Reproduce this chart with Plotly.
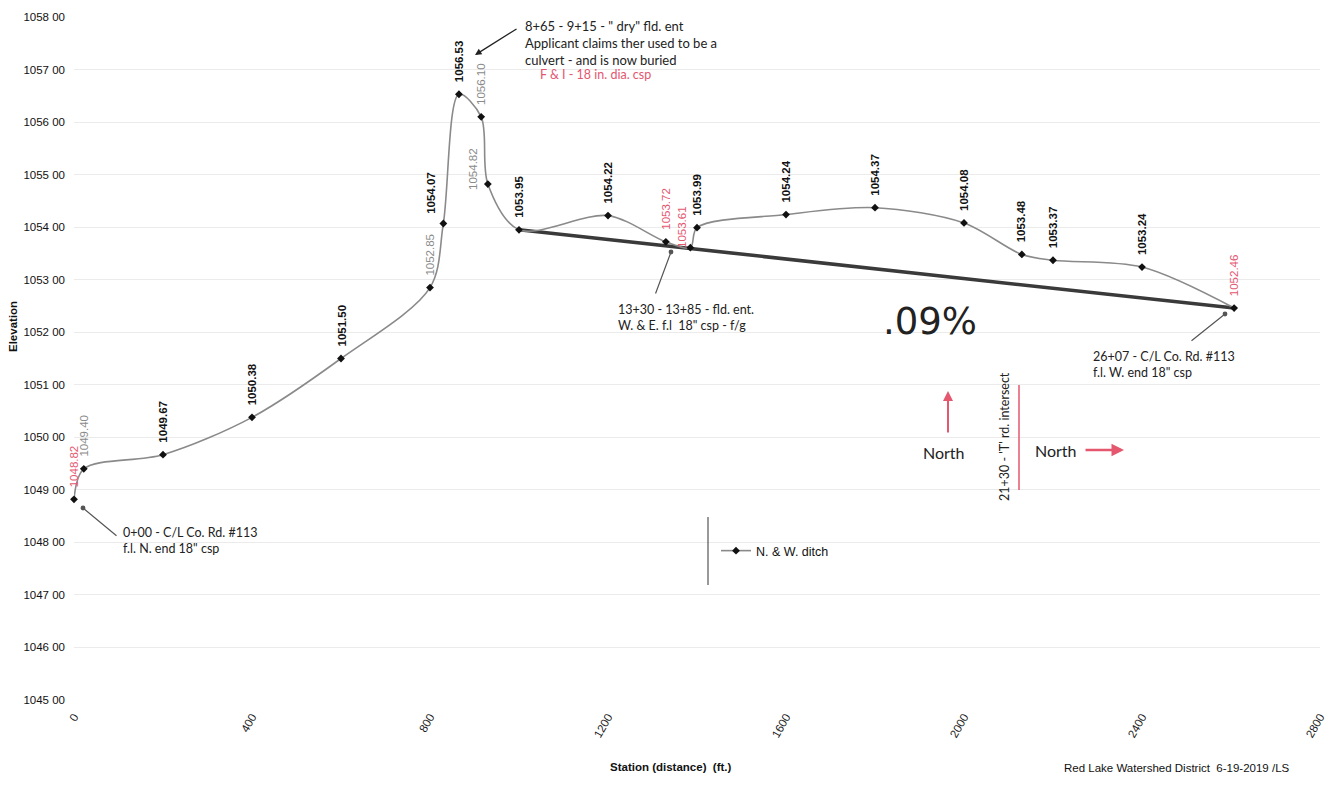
import plotly.graph_objects as go

# ---- data ----
stations = [0, 22, 200, 400, 600, 800, 830, 865, 915, 930, 1000, 1200, 1330, 1385,
            1400, 1600, 1800, 2000, 2130, 2200, 2400, 2607]
elevations = [1048.82, 1049.40, 1049.67, 1050.38, 1051.50, 1052.85, 1054.07, 1056.53,
              1056.10, 1054.82, 1053.95, 1054.22, 1053.72, 1053.61, 1053.99, 1054.24,
              1054.37, 1054.08, 1053.48, 1053.37, 1053.24, 1052.46]
grade_start, grade_end = 1000, 2607
series_name = "N. & W. ditch"
y_ticks = list(range(1045, 1059))
x_ticks = list(range(0, 2801, 400))

# ---- styling ----
red = "#e5566f"
red_labels = {0, 1330, 1385, 2607}
gray_labels = {22, 800, 915, 930}
label_shift = {830: (-12, -2), 930: (-15, -18), 1385: (-9, -12)}

fig = go.Figure()

# gradient line
i0, i1 = stations.index(grade_start), stations.index(grade_end)
fig.add_trace(go.Scatter(x=[stations[i0], stations[i1]], y=[elevations[i0], elevations[i1]],
                         mode="lines", line=dict(color="#3a3a3a", width=3.5),
                         showlegend=False, hoverinfo="skip"))

fig.add_trace(go.Scatter(x=stations, y=elevations, mode="lines+markers", name=series_name,
                         line=dict(color="#8a8a8a", width=1.6, shape="spline", smoothing=0.9),
                         marker=dict(symbol="diamond", size=6, color="#111"),
                         cliponaxis=False))

ann = []
for s, e in zip(stations, elevations):
    if s in red_labels:
        col, txt = red, f"{e:.2f}"
    elif s in gray_labels:
        col, txt = "#8a8a8a", f"{e:.2f}"
    else:
        col, txt = "#111", f"<b>{e:.2f}</b>"
    dx, dy = label_shift.get(s, (0, 0))
    ann.append(dict(x=s, y=e, text=txt, textangle=-90, showarrow=False,
                    xanchor="center", yanchor="bottom", yshift=10 + dy, xshift=dx,
                    font=dict(family="Liberation Sans", size=11.5, color=col)))

note_font = dict(family="Lato", size=12.5, color="#222")

def px2x(px):
    return (px - 74) / 0.4450

def px2y(py):
    return 1058 - (py - 17) / 52.54

# top note
ann.append(dict(x=px2x(523), y=1058, yshift=1, xanchor="left", yanchor="top", showarrow=False, align="left",
                text="8+65 - 9+15 - \" dry\" fld. ent<br>Applicant claims ther used to be a<br>culvert - and is now buried",
                font=dict(family="Lato", size=13, color="#222")))
ann.append(dict(x=px2x(475), y=px2y(55), ax=px2x(518), ay=px2y(28), axref="x", ayref="y",
                showarrow=True, arrowhead=2, arrowsize=1, arrowwidth=1.3, arrowcolor="#222", text=""))
ann.append(dict(x=px2x(538), y=px2y(74), xanchor="left", yanchor="middle", showarrow=False,
                text="F & I - 18 in. dia. csp", font=dict(family="Lato", size=12.5, color=red)))

# 13+30 note
ann.append(dict(x=px2x(616), y=px2y(318), xanchor="left", yanchor="middle", showarrow=False, align="left",
                text="13+30 - 13+85 - fld. ent.<br>W. & E. f.l  18\" csp - f/g", font=note_font))
ann.append(dict(x=px2x(671), y=px2y(252), ax=px2x(655), ay=px2y(295), axref="x", ayref="y",
                showarrow=True, arrowhead=6, arrowsize=1, arrowwidth=1.2, arrowcolor="#555", text=""))

# 0+00 note
ann.append(dict(x=px2x(121), y=px2y(541), xanchor="left", yanchor="middle", showarrow=False, align="left",
                text="0+00 - C/L Co. Rd. #113<br>f.l. N. end 18\" csp", font=note_font))
ann.append(dict(x=px2x(83), y=px2y(508), ax=px2x(118), ay=px2y(537), axref="x", ayref="y",
                showarrow=True, arrowhead=6, arrowsize=1, arrowwidth=1.2, arrowcolor="#555", text=""))

# 26+07 note
ann.append(dict(x=px2x(1091), y=px2y(365), xanchor="left", yanchor="middle", showarrow=False, align="left",
                text="26+07 - C/L Co. Rd. #113<br>f.l. W. end 18\" csp", font=note_font))
ann.append(dict(x=px2x(1225), y=px2y(314), ax=px2x(1190), ay=px2y(342), axref="x", ayref="y",
                showarrow=True, arrowhead=6, arrowsize=1, arrowwidth=1.2, arrowcolor="#555", text=""))

# grade handwritten
ann.append(dict(x=px2x(930), y=px2y(322), showarrow=False, text=".09%",
                font=dict(family="DejaVu Sans", size=37, color="#222")))

# North arrows
ann.append(dict(x=px2x(948), y=px2y(391), ax=px2x(948), ay=px2y(434), axref="x", ayref="y",
                showarrow=True, arrowhead=2, arrowsize=1, arrowwidth=2, arrowcolor=red, text=""))
ann.append(dict(x=px2x(944), y=px2y(453), showarrow=False, text="North",
                font=dict(family="Lato", size=16, color="#222")))
ann.append(dict(x=px2x(1056), y=px2y(451), showarrow=False, text="North",
                font=dict(family="Lato", size=16, color="#222")))
ann.append(dict(x=px2x(1124), y=px2y(450), ax=px2x(1084), ay=px2y(450), axref="x", ayref="y",
                showarrow=True, arrowhead=2, arrowsize=1, arrowwidth=2.5, arrowcolor=red, text=""))
ann.append(dict(x=px2x(1005), y=px2y(437), showarrow=False, text="21+30 - 'T' rd. intersect",
                textangle=-90, font=dict(family="Lato", size=12.5, color="#222")))

# axis titles / footer
ann.append(dict(xref="paper", yref="paper", x=(13 - 74) / 1246, y=(700 - 327) / 683, showarrow=False,
                xanchor="center", yanchor="middle",
                text="<b>Elevation</b>", textangle=-90,
                font=dict(family="Liberation Sans", size=11.5, color="#111")))
ann.append(dict(xref="paper", yref="paper", x=(671 - 74) / 1246, y=(700 - 767) / 683, showarrow=False,
                xanchor="center", yanchor="middle",
                text="<b>Station (distance)  (ft.)</b>",
                font=dict(family="Liberation Sans", size=11.5, color="#111")))
ann.append(dict(xref="paper", yref="paper", x=(1177 - 74) / 1246, y=(700 - 768) / 683, showarrow=False,
                xanchor="center", yanchor="middle",
                text="Red Lake Watershed District  6-19-2019 /LS",
                font=dict(family="Liberation Sans", size=11.5, color="#111")))

shapes = [
    dict(type="line", xref="x", yref="y", x0=px2x(1019), x1=px2x(1019), y0=px2y(385), y1=px2y(490),
         line=dict(color=red, width=1.5)),
    dict(type="line", xref="paper", yref="paper", x0=(708 - 74) / 1246, x1=(708 - 74) / 1246,
         y0=(700 - 585) / 683, y1=(700 - 517) / 683, line=dict(color="#333", width=1)),
]

# page body adds an 8px offset; size the figure so the plot area lands where the reference has it
fig.update_layout(
    width=1319, height=769,
    margin=dict(l=66, r=7, t=9, b=77),
    plot_bgcolor="white", paper_bgcolor="white",
    annotations=ann, shapes=shapes,
    showlegend=True,
    legend=dict(x=(716 - 74) / 1246, y=(700 - 551) / 683, xanchor="left", yanchor="middle",
                bgcolor="rgba(0,0,0,0)", font=dict(family="Liberation Sans", size=12.5, color="#111")),
    xaxis=dict(range=[0, 2800], tickvals=x_ticks, tickangle=-60, showgrid=False, zeroline=False,
               showline=False, ticks="", automargin=False, ticklabelstandoff=7,
               tickfont=dict(family="Liberation Sans", size=11.5, color="#222")),
    yaxis=dict(range=[1045, 1058], tickvals=y_ticks, ticktext=[f"{v} 00" for v in y_ticks],
               showgrid=True, gridcolor="#ebebeb", gridwidth=1, zeroline=False, showline=False,
               ticks="", automargin=False, ticklabelstandoff=8,
               tickfont=dict(family="Liberation Sans", size=11.5, color="#111")),
)

fig.write_html("out.html")
